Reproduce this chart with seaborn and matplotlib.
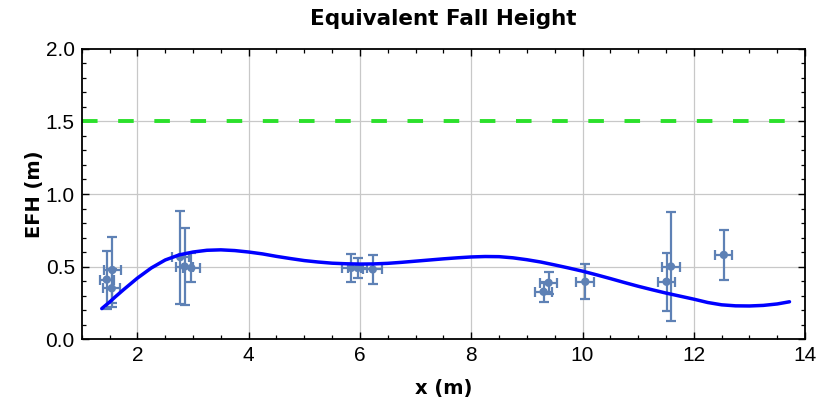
import matplotlib
matplotlib.use("Agg")
import matplotlib.pyplot as plt
import seaborn as sns
import numpy as np
import pandas as pd
from matplotlib.ticker import MultipleLocator

# ---- data ----
meas_x = [1.45, 1.55, 1.54, 2.77, 2.85, 2.97, 5.84, 5.96, 6.23, 9.30, 9.39, 10.05, 11.51, 11.59, 12.54]
meas_y = [0.41, 0.476, 0.35, 0.565, 0.50, 0.49, 0.49, 0.49, 0.48, 0.326, 0.388, 0.395, 0.395, 0.50, 0.58]
meas_yerr = [0.20, 0.225, 0.13, 0.32, 0.265, 0.10, 0.095, 0.07, 0.10, 0.07, 0.076, 0.12, 0.20, 0.375, 0.17]
meas_xerr = [0.13, 0.15, 0.15, 0.15, 0.15, 0.15, 0.17, 0.17, 0.17, 0.16, 0.16, 0.16, 0.155, 0.17, 0.15]

fit_x = [1.36, 1.5, 1.6, 1.75, 2.0, 2.25, 2.5, 2.75, 3.0, 3.25, 3.5, 3.75, 4.0, 4.25, 4.5,
         4.75, 5.0, 5.25, 5.5, 5.75, 6.0, 6.25, 6.5, 6.75, 7.0, 7.25, 7.5, 7.75, 8.0, 8.25,
         8.5, 8.75, 9.0, 9.25, 9.5, 9.75, 10.0, 10.25, 10.5, 10.75, 11.0, 11.25, 11.5, 11.75,
         12.0, 12.25, 12.5, 12.75, 13.0, 13.25, 13.5, 13.72]
fit_y = [0.21, 0.255, 0.29, 0.34, 0.42, 0.49, 0.545, 0.58, 0.60, 0.612, 0.615, 0.61, 0.60, 0.587, 0.57,
         0.555, 0.541, 0.531, 0.523, 0.519, 0.517, 0.518, 0.522, 0.529, 0.537, 0.545, 0.553, 0.56, 0.566, 0.569,
         0.568, 0.56, 0.547, 0.531, 0.511, 0.49, 0.468, 0.443, 0.417, 0.39, 0.364, 0.34, 0.317, 0.296,
         0.275, 0.252, 0.236, 0.229, 0.228, 0.232, 0.242, 0.257]

threshold = 1.5

title = "Equivalent Fall Height"
xlabel = "x (m)"
ylabel = "EFH (m)"
xtick_vals = [2, 4, 6, 8, 10, 12, 14]
ytick_vals = [0.0, 0.5, 1.0, 1.5, 2.0]

# ---- style ----
sns.set_theme(style="ticks")
plt.rcParams['font.family'] = ['Liberation Sans', 'DejaVu Sans']
plt.rcParams['text.color'] = 'black'
plt.rcParams['axes.labelcolor'] = 'black'
plt.rcParams['xtick.color'] = 'black'
plt.rcParams['ytick.color'] = 'black'

pt_color = "#5E81B5"
fig = plt.figure(figsize=(8.19, 4.08), dpi=100)
ax = fig.add_axes([0.0998, 0.169, 0.8832, 0.711])

ax.set_xlim(1, 14)
ax.set_ylim(0, 2)

# grid
for gx in xtick_vals[:-1]:
    ax.axvline(gx, color="#C8C8C8", lw=0.9, zorder=0)
for gy in ytick_vals[1:-1]:
    ax.axhline(gy, color="#C8C8C8", lw=0.9, zorder=0)

# threshold dashed line
ax.axhline(threshold, color="#2BE02B", lw=2.8, linestyle=(0, (4.0, 5.3)), zorder=1)

meas = pd.DataFrame({"x": meas_x, "y": meas_y})
ax.errorbar(meas_x, meas_y, xerr=meas_xerr, yerr=meas_yerr, fmt="none",
            ecolor=pt_color, elinewidth=1.6, capsize=3.5, capthick=1.6, zorder=2)
sns.scatterplot(data=meas, x="x", y="y", ax=ax, color=pt_color, s=36,
                edgecolor="none", zorder=3, legend=False)

fit = pd.DataFrame({"x": fit_x, "y": fit_y})
sns.lineplot(data=fit, x="x", y="y", ax=ax, color="#0000FF", lw=2.5, zorder=4,
             sort=False, estimator=None)

# ticks
ax.set_xticks(xtick_vals)
ax.set_xticklabels([str(v) for v in xtick_vals])
ax.set_yticks(ytick_vals)
ax.set_yticklabels([f"{v:.1f}" for v in ytick_vals])
ax.xaxis.set_minor_locator(MultipleLocator(0.5))
ax.yaxis.set_minor_locator(MultipleLocator(0.1))
ax.tick_params(which="both", direction="in", top=True, right=True, color="black")
ax.tick_params(which="major", length=5, width=1.0, labelsize=15, pad=5)
ax.tick_params(which="minor", length=3, width=0.9)
for s in ax.spines.values():
    s.set_color("black")
    s.set_linewidth(1.3)

ax.set_xlabel(xlabel, fontsize=14, fontweight="bold", family=["DejaVu Sans"], labelpad=10)
ax.set_ylabel(ylabel, fontsize=14, fontweight="bold", family=["DejaVu Sans"], labelpad=1)
ax.set_title(title, fontsize=15.5, fontweight="bold", family=["DejaVu Sans"], pad=17)

fig.savefig("out.png", dpi=100)
